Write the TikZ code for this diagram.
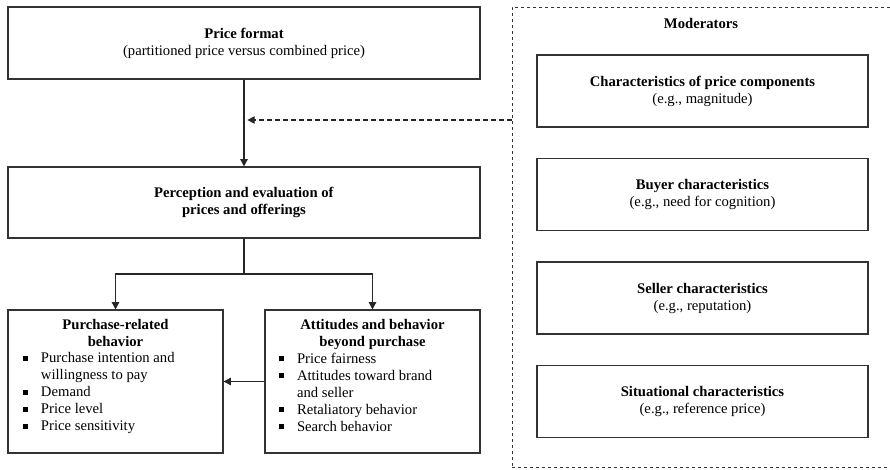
\documentclass[tikz,border=0pt]{standalone}
\usepackage{fontspec}
\setmainfont{Liberation Serif}
\usetikzlibrary{arrows.meta}
\newcommand\bsq{\makebox[13.3pt][l]{\raisebox{1.3pt}{\rule{3.8pt}{3.8pt}}}}
\begin{document}
\begin{tikzpicture}[x=0.75pt,y=-0.75pt,
  box/.style={draw=black!80,line width=0.8pt,inner sep=0pt,align=center,
    font=\fontsize{11}{12.75}\selectfont},
  mbox/.style={box,minimum width=248.25pt,minimum height=54pt},
  txt/.style={inner sep=0pt,font=\fontsize{11}{12.75}\selectfont},
  link/.style={draw=black!85,line width=1.1pt},
  conn/.style={link,-{Triangle[length=5.5pt,width=5.5pt]}},
  dconn/.style={draw=black!85,line width=0.9pt,dash pattern=on 3.5pt off 2.5pt,
    -{Triangle[length=5.5pt,width=5.5pt]}},
  dbox/.style={draw=black!80,line width=0.7pt,dash pattern=on 2.5pt off 2pt,inner sep=0pt}]
\useasboundingbox (0,0) rectangle (890,470);

% left column
\node[box,minimum width=354pt,minimum height=54pt] (pf) at (244,43)
  {\textbf{Price format}\\(partitioned price versus combined price)};
\node[box,minimum width=354pt,minimum height=53.25pt] (pe) at (244,202.5)
  {\textbf{Perception and evaluation of}\\\textbf{prices and offerings}};
\node[box,minimum width=161.25pt,minimum height=107.25pt] (pr) at (115.5,381.5) {};
\node[box,minimum width=161.25pt,minimum height=107.25pt] (at) at (372.5,381.5) {};

\node[txt,anchor=north,align=center] (prt) at (115.5,319.5)
  {\textbf{Purchase-related}\\\textbf{behavior}};
\node[txt,anchor=north west,align=left] (prl) at (23,352.5)
  {\bsq Purchase intention and\\\hspace*{13.3pt}willingness to pay\\\bsq Demand\\\bsq Price level\\\bsq Price sensitivity};
\node[txt,anchor=north,align=center] (att) at (372.5,319.5)
  {\textbf{Attitudes and behavior}\\\textbf{beyond purchase}};
\node[txt,anchor=north west,align=left] (atl) at (279,352.5)
  {\bsq Price fairness\\\bsq Attitudes toward brand\\\hspace*{13.3pt}and seller\\\bsq Retaliatory behavior\\\bsq Search behavior};

% moderators
\node[dbox,minimum width=284.25pt,minimum height=345pt] (mod) at (701.5,237) {};
\node[txt] (modt) at (701,23) {\textbf{Moderators}};
\node[mbox] (m1) at (702.5,91) {\textbf{Characteristics of price components}\\(e.g., magnitude)};
\node[mbox] (m2) at (702.5,194.5) {\textbf{Buyer characteristics}\\(e.g., need for cognition)};
\node[mbox] (m3) at (702.5,298) {\textbf{Seller characteristics}\\(e.g., reputation)};
\node[mbox] (m4) at (702.5,401.5) {\textbf{Situational characteristics}\\(e.g., reference price)};

% connectors
\draw[conn] (pf) -- (pe);
\coordinate (split) at (244,274);
\draw[link] (pe.south) -- (split);
\draw[conn] (split) -| (pr.north);
\draw[conn] (split) -| (at.north);
\draw[conn] (at.west) -- (pr.east);
\coordinate (dend) at (244,120);
\draw[dconn,shorten >=2.5pt] (mod.west |- dend) -- (dend);
\end{tikzpicture}
\end{document}
